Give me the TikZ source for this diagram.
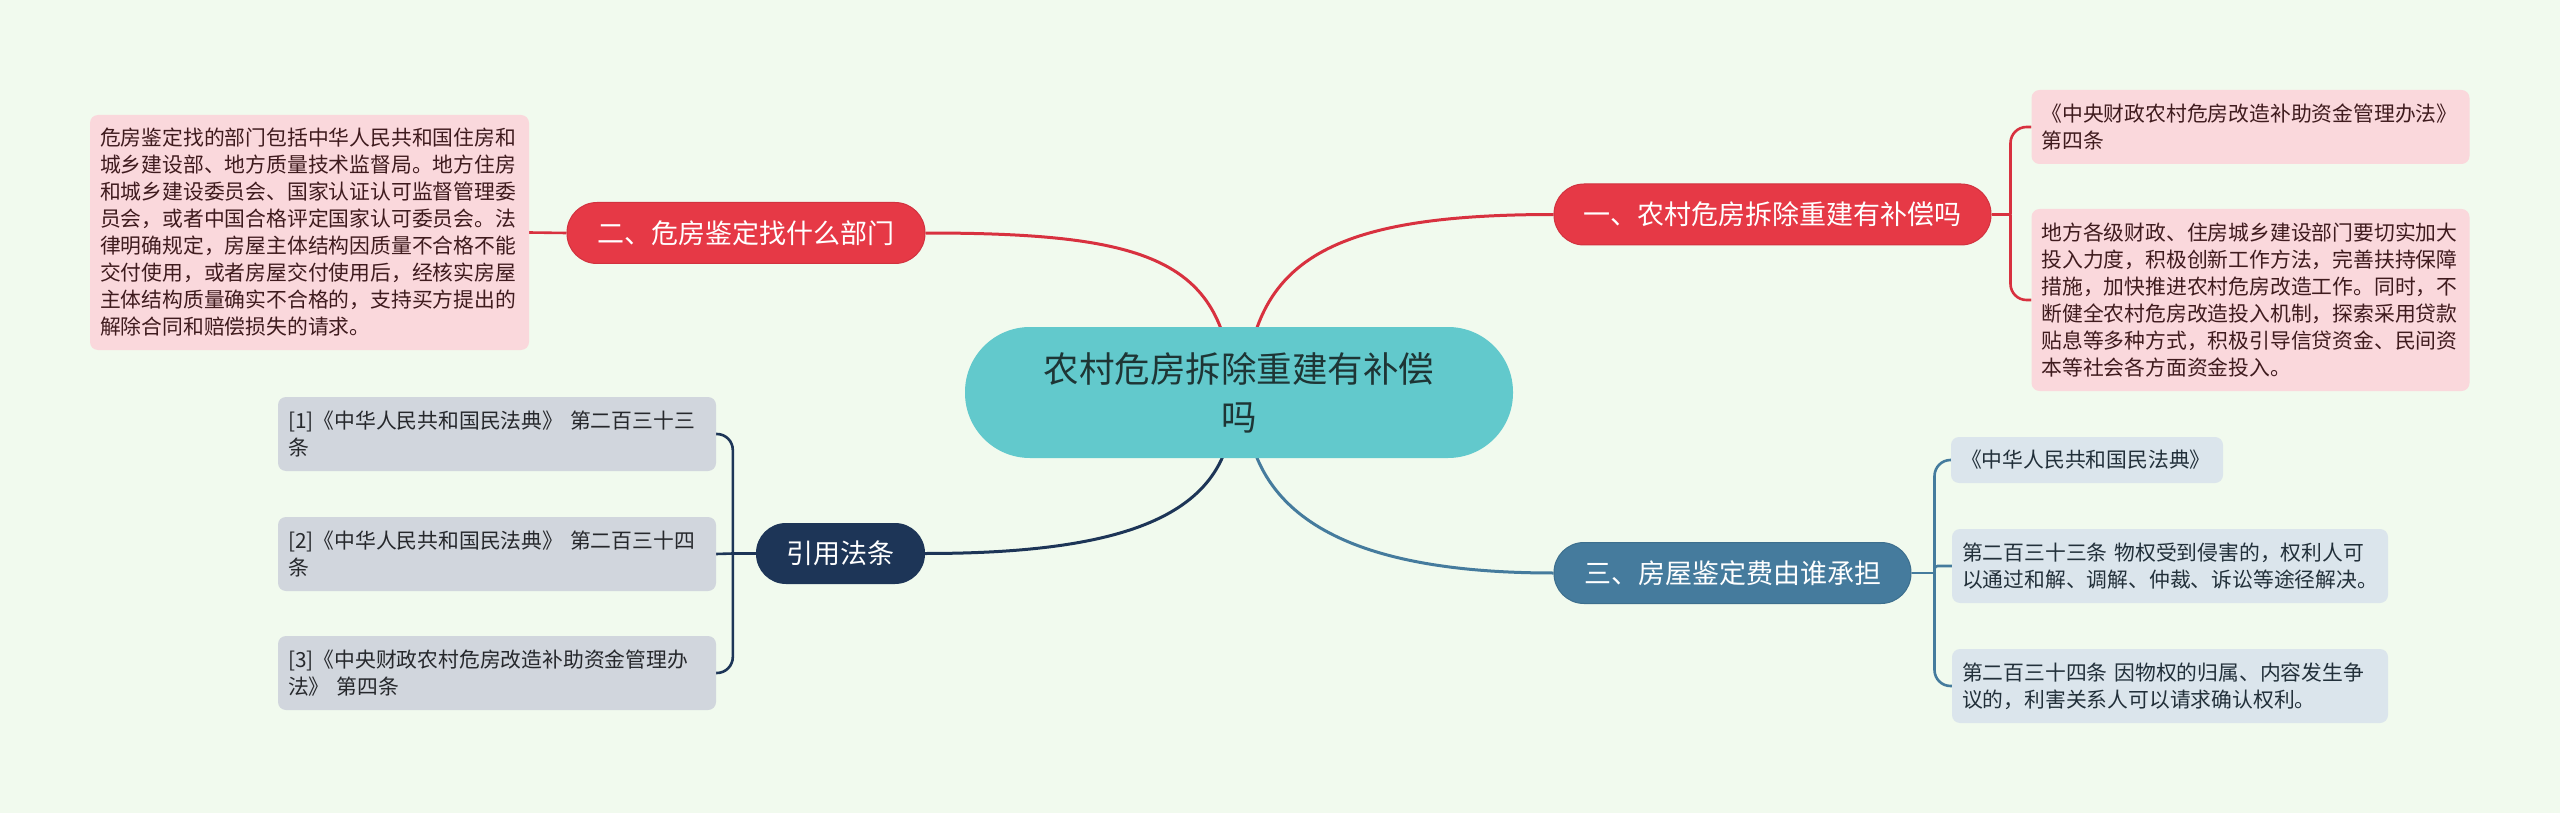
\documentclass[tikz,border=0pt]{standalone}
\usepackage{fontspec}
\setmainfont{Noto Sans CJK SC}
\usetikzlibrary{positioning}
\definecolor{bgcol}{HTML}{F1FAEE}
\definecolor{teal}{HTML}{62C9CC}
\definecolor{cenText}{HTML}{1E3535}
\definecolor{redB}{HTML}{E63946}
\definecolor{redEdge}{HTML}{D2323F}
\definecolor{redLine}{HTML}{D8313F}
\definecolor{pinkLeaf}{HTML}{FAD8DC}
\definecolor{pinkText}{HTML}{3F1B1E}
\definecolor{steel}{HTML}{457B9D}
\definecolor{steelEdge}{HTML}{3D6F8E}
\definecolor{blueLeaf}{HTML}{DBE5EC}
\definecolor{blueText}{HTML}{22303A}
\definecolor{navy}{HTML}{1D3557}
\definecolor{grayLeaf}{HTML}{D1D6DD}
\definecolor{grayText}{HTML}{26282C}
\pgfdeclarelayer{bglayer}
\pgfdeclarelayer{edgelayer}
\pgfsetlayers{bglayer,edgelayer,main}
\tikzset{
  leafbox/.style={rectangle, rounded corners=8pt, inner xsep=10pt, inner ysep=0pt,
    align=left, font=\fontsize{20.8}{27}\selectfont},
  pill/.style={rectangle, rounded corners=30pt, inner sep=0pt, minimum height=61pt,
    text=white, font=\fontsize{27}{32}\selectfont},
  mainline/.style={line width=3pt},
  subline/.style={line width=2.6pt},
}
\begin{document}
\begin{tikzpicture}[x=1pt,y=-1pt]
\useasboundingbox (0,0) rectangle (2560,813);
\begin{pgfonlayer}{bglayer}
  \fill[bgcol] (0,0) rectangle (2560,813);
\end{pgfonlayer}

% central
\node[rectangle, rounded corners=65pt, fill=teal, minimum width=548pt, minimum height=131pt,
  inner sep=0pt, align=center, text=cenText, font=\fontsize{35.5}{48}\selectfont]
  (c) at (1239,392.5) {农村危房拆除重建有补偿\\吗};

% branches
\node[pill, fill=redB, draw=redEdge, line width=1pt, minimum width=437pt] (b1) at (1772.5,214.5) {一、农村危房拆除重建有补偿吗};
\node[pill, fill=redB, draw=redEdge, line width=1pt, minimum width=358pt] (b2) at (746,233) {二、危房鉴定找什么部门};
\node[pill, fill=steel, draw=steelEdge, line width=1pt, minimum width=357pt] (b3) at (1732.5,573) {三、房屋鉴定费由谁承担};
\node[pill, fill=navy, minimum width=169pt] (b4) at (840.5,553.5) {引用法条};

% leaves of branch 1
\node[leafbox, fill=pinkLeaf, text=pinkText, text width=418pt, minimum height=74pt] (l1a) at (2250.5,127)
  {《中央财政农村危房改造补助资金管理办法》\\第四条};
\node[leafbox, fill=pinkLeaf, text=pinkText, text width=418pt, minimum height=182pt] (l1b) at (2250.5,300)
  {地方各级财政、住房城乡建设部门要切实加大\\投入力度，积极创新工作方法，完善扶持保障\\措施，加快推进农村危房改造工作。同时，不\\断健全农村危房改造投入机制，探索采用贷款\\贴息等多种方式，积极引导信贷资金、民间资\\本等社会各方面资金投入。};

% leaf of branch 2
\node[leafbox, fill=pinkLeaf, text=pinkText, text width=419pt, minimum height=235pt] (l2) at (309.5,232.5)
  {危房鉴定找的部门包括中华人民共和国住房和\\城乡建设部、地方质量技术监督局。地方住房\\和城乡建设委员会、国家认证认可监督管理委\\员会，或者中国合格评定国家认可委员会。法\\律明确规定，房屋主体结构因质量不合格不能\\交付使用，或者房屋交付使用后，经核实房屋\\主体结构质量确实不合格的，支持买方提出的\\解除合同和赔偿损失的请求。};

% leaves of branch 3
\node[leafbox, fill=blueLeaf, text=blueText, text width=252pt, minimum height=46pt] (l3a) at (2087,460)
  {《中华人民共和国民法典》};
\node[leafbox, fill=blueLeaf, text=blueText, text width=416pt, minimum height=74pt] (l3b) at (2170,566)
  {第二百三十三条 物权受到侵害的，权利人可\\以通过和解、调解、仲裁、诉讼等途径解决。};
\node[leafbox, fill=blueLeaf, text=blueText, text width=416pt, minimum height=74pt] (l3c) at (2170,686)
  {第二百三十四条 因物权的归属、内容发生争\\议的，利害关系人可以请求确认权利。};

% leaves of branch 4
\node[leafbox, fill=grayLeaf, text=grayText, text width=418pt, minimum height=74pt] (l4a) at (497,434)
  {[1]《中华人民共和国民法典》 第二百三十三\\条};
\node[leafbox, fill=grayLeaf, text=grayText, text width=418pt, minimum height=74pt] (l4b) at (497,554)
  {[2]《中华人民共和国民法典》 第二百三十四\\条};
\node[leafbox, fill=grayLeaf, text=grayText, text width=418pt, minimum height=74pt] (l4c) at (497,673)
  {[3]《中央财政农村危房改造补助资金管理办\\法》 第四条};

\coordinate (j1) at ([xshift=19pt]b1.east);
\coordinate (j3) at ([xshift=23pt]b3.east);
\coordinate (j4) at ([xshift=-23pt]b4.west);

\begin{pgfonlayer}{edgelayer}
  % central connectors
  \draw[mainline, redLine] ([xshift=6pt]c.center) .. controls (1253,260) and (1330,214.5) .. (b1.west);
  \draw[mainline, redLine] ([xshift=-6pt]c.center) .. controls (1225,260) and (1150,233) .. (b2.east);
  \draw[mainline, steel] ([xshift=6pt]c.center) .. controls (1245,505) and (1330,573) .. (b3.west);
  \draw[mainline, navy] ([xshift=-6pt]c.center) .. controls (1238,505) and (1150,553.5) .. (b4.east);
  % branch 1
  \draw[subline, redLine] (b1.east) -- (j1);
  \draw[subline, redLine, rounded corners=16pt] (j1) |- (l1a.west);
  \draw[subline, redLine, rounded corners=16pt] (j1) |- (l1b.west);
  % branch 2
  \draw[subline, redLine] (l2.east) -- (b2.west);
  % branch 3
  \draw[subline, steel] (b3.east) -- (j3);
  \draw[subline, steel, rounded corners=16pt] (j3) |- (l3a.west);
  \draw[subline, steel, rounded corners=3pt] (j3) |- (l3b.west);
  \draw[subline, steel, rounded corners=16pt] (j3) |- (l3c.west);
  % branch 4
  \draw[subline, navy] (b4.west) -- (j4);
  \draw[subline, navy, rounded corners=16pt] (j4) |- (l4a.east);
  \draw[subline, navy] (j4) -- (l4b.east);
  \draw[subline, navy, rounded corners=16pt] (j4) |- (l4c.east);
\end{pgfonlayer}
\end{tikzpicture}
\end{document}
